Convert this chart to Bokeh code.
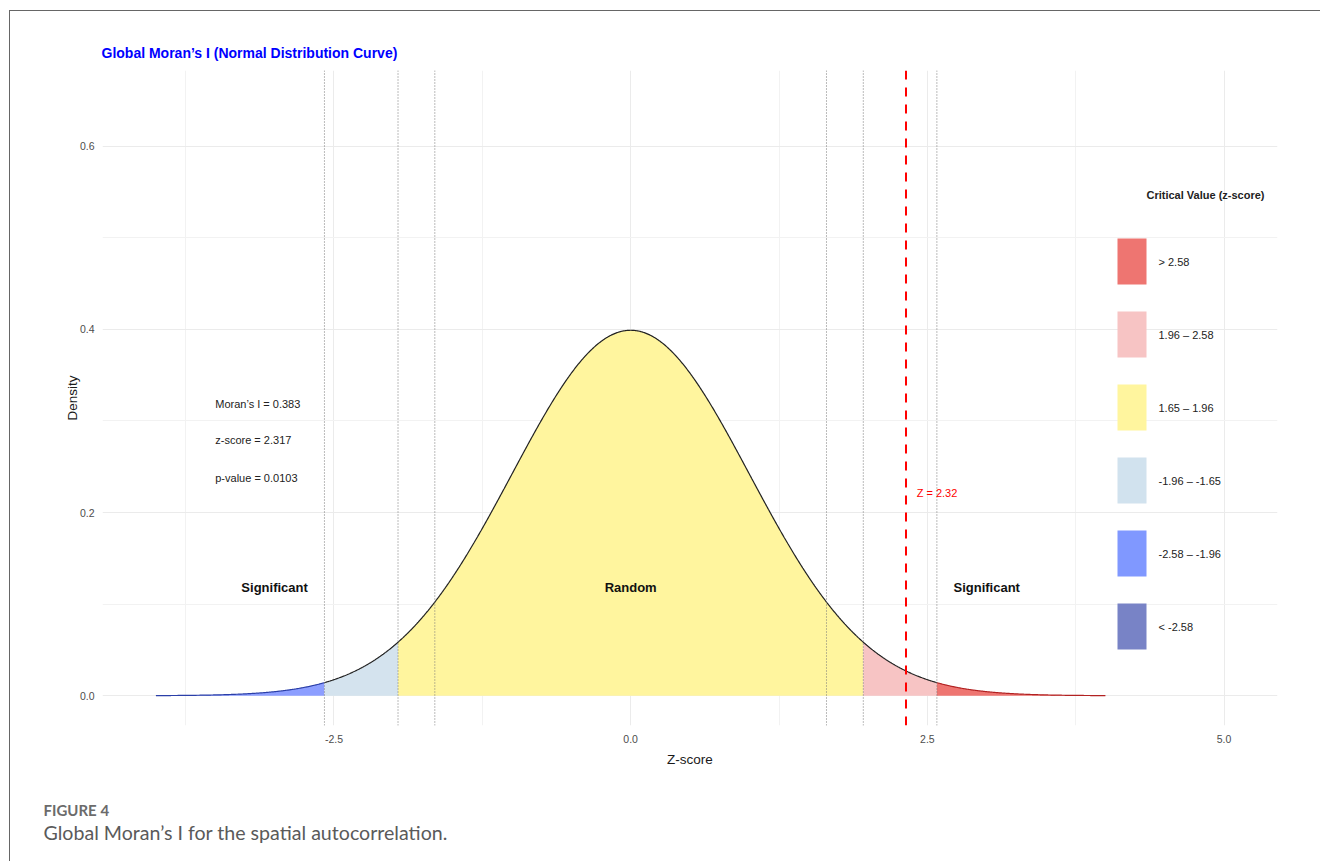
import numpy as np
from bokeh.plotting import figure
from bokeh.models import (Range1d, FixedTicker, NumeralTickFormatter, Span, Label,
                          BoxAnnotation, Title, LinearAxis)
from bokeh.embed import file_html
from bokeh.resources import INLINE

# ---------------- data ----------------
title_text = "Global Moran’s I (Normal Distribution Curve)"
curve_min, curve_max = -4.0, 4.0
region_bounds = [-4.0, -2.58, -1.96, 1.96, 2.58, 4.0]
region_fills = ["#8C9EFF", "#D4E3EE", "#FFF59E", "#F7C4C4", "#EE7571"]
outline_bounds = [-4.0, -2.58, 2.58, 4.0]
outline_colors = ["#2B3FA8", "#222222", "#B22222"]
critical_values = [-2.58, -1.96, -1.65, 1.65, 1.96, 2.58]
observed_z = 2.32
observed_label = "Z = 2.32"
stats_labels = ["Moran’s I = 0.383", "z-score = 2.317", "p-value = 0.0103"]
stats_x = -3.5
stats_y = [0.318, 0.279, 0.238]
zone_labels = ["Significant", "Random", "Significant"]
zone_x = [-3.0, 0.0, 3.0]
zone_y = 0.118
legend_title = "Critical Value (z-score)"
legend_labels = ["> 2.58", "1.96 – 2.58", "1.65 – 1.96", "-1.96 – -1.65", "-2.58 – -1.96", "< -2.58"]
legend_colors = ["#EE7571", "#F7C4C4", "#FFF59E", "#D1E2EE", "#8098FF", "#7883C6"]
x_ticks = [-2.5, 0.0, 2.5, 5.0]
x_minor = [-3.75, -1.25, 1.25, 3.75]
y_ticks = [0.0, 0.2, 0.4, 0.6]
y_minor = [0.1, 0.3, 0.5]
caption_head = "FIGURE 4"
caption_text = "Global Moran’s I for the spatial autocorrelation."

FONT = "Liberation Sans"
CAP_FONT = "Lato"

# theoretical standard normal density
z = np.linspace(curve_min, curve_max, 1601)
dens = np.exp(-z ** 2 / 2) / np.sqrt(2 * np.pi)

p = figure(frame_width=1175, frame_height=655,
           min_border_left=92, min_border_top=59, min_border_right=43, min_border_bottom=136,
           x_range=Range1d(-4.45, 5.45), y_range=Range1d(-0.0325, 0.6825),
           output_backend="svg", toolbar_location=None)
p.styles = {"margin-left": "9px", "margin-top": "10px",
            "border-left": "1px solid #666666", "border-top": "1px solid #666666"}
p.outline_line_color = None
p.background_fill_color = "white"

# title
p.title.text = title_text
p.title.align = "left"
p.title.offset = -1
p.title.standoff = 20
p.title.text_font = FONT
p.title.text_font_size = "14px"
p.title.text_font_style = "bold"
p.title.text_color = "#0000FF"

# axes
p.xaxis.ticker = FixedTicker(ticks=x_ticks, minor_ticks=x_minor)
p.yaxis.ticker = FixedTicker(ticks=y_ticks, minor_ticks=y_minor)
p.xaxis.formatter = NumeralTickFormatter(format="0.0")
p.yaxis.formatter = NumeralTickFormatter(format="0.0")
for ax in (p.xaxis[0], p.yaxis[0]):
    ax.axis_line_color = None
    ax.major_tick_line_color = None
    ax.minor_tick_line_color = None
    ax.major_tick_out = 0
    ax.minor_tick_out = 0
    ax.major_label_text_font = FONT
    ax.major_label_text_font_size = "10.5px"
    ax.major_label_text_color = "#4D4D4D"
    ax.axis_label_text_font = FONT
    ax.axis_label_text_font_size = "13.5px"
    ax.axis_label_text_font_style = "normal"
    ax.axis_label_text_color = "#1A1A1A"
p.xaxis.axis_label = "Z-score"
p.yaxis.axis_label = "Density"
p.xaxis.major_label_standoff = 9
p.yaxis.major_label_standoff = 8
p.xaxis.axis_label_standoff = 6
p.yaxis.axis_label_standoff = -3

for g in (p.xgrid[0], p.ygrid[0]):
    g.grid_line_color = "#EBEBEB"
    g.grid_line_width = 1
    g.minor_grid_line_color = "#F2F2F2"
    g.minor_grid_line_width = 1

# shaded regions
for i, col in enumerate(region_fills):
    lo, hi = region_bounds[i], region_bounds[i + 1]
    m = (z >= lo) & (z <= hi)
    p.varea(x=z[m], y1=np.zeros(m.sum()), y2=dens[m], fill_color=col, fill_alpha=1.0)

# curve outline
for i, col in enumerate(outline_colors):
    lo, hi = outline_bounds[i], outline_bounds[i + 1]
    m = (z >= lo) & (z <= hi)
    p.line(z[m], dens[m], line_color=col, line_width=1.2)

# critical value lines
for cv in critical_values:
    p.add_layout(Span(location=cv, dimension="height", line_color="#777777",
                      line_width=1, line_dash="1 2"))
p.add_layout(Span(location=observed_z, dimension="height", line_color="#FF0000",
                  line_width=2, line_dash="9 8"))
p.add_layout(Label(x=observed_z + 0.09, y=0.221, text=observed_label, text_font=FONT,
                   text_font_size="11px", text_color="#FF0000",
                   text_align="left", text_baseline="middle"))

# stats text
for t, yy in zip(stats_labels, stats_y):
    p.add_layout(Label(x=stats_x, y=yy, text=t, text_font=FONT, text_font_size="11px",
                       text_color="#222222", text_align="left", text_baseline="middle"))

# zone labels
for t, xx in zip(zone_labels, zone_x):
    p.add_layout(Label(x=xx, y=zone_y, text=t, text_font=FONT, text_font_size="13px",
                       text_font_style="bold", text_color="#111111",
                       text_align="center", text_baseline="middle"))

# legend (keys placed in screen px inside the panel)
KEY_L, KEY_W, KEY_H, KEY_STEP, KEY_TOP = 1015, 29, 46, 73, 487
for i, (lab, col) in enumerate(zip(legend_labels, legend_colors)):
    top = KEY_TOP - i * KEY_STEP
    p.add_layout(BoxAnnotation(left=KEY_L, right=KEY_L + KEY_W, top=top, bottom=top - KEY_H,
                               left_units="screen", right_units="screen",
                               top_units="screen", bottom_units="screen",
                               fill_color=col, fill_alpha=1.0, line_color=None))
    p.add_layout(Label(x=KEY_L + KEY_W + 12, y=top - KEY_H / 2, x_units="screen", y_units="screen",
                       text=lab, text_font=FONT, text_font_size="11px", text_color="#222222",
                       text_align="left", text_baseline="middle"))
p.add_layout(Label(x=KEY_L + KEY_W, y=531, x_units="screen", y_units="screen", text=legend_title,
                   text_font=FONT, text_font_size="11px", text_font_style="bold",
                   text_color="#222222", text_align="left", text_baseline="middle"))

# blank spacer between the axis and the caption (one white tick, no labels drawn)
spacer = LinearAxis(ticker=FixedTicker(ticks=[0.0], minor_ticks=[]), axis_line_color=None,
                    major_tick_line_color="white", major_tick_in=0, major_tick_out=29,
                    minor_tick_line_color=None, minor_tick_out=0,
                    major_label_text_color=None, major_label_text_font_size="10px",
                    major_label_standoff=0)
p.add_layout(spacer, "below")

# caption
p.add_layout(Title(text=caption_head, align="left", offset=-59, standoff=0,
                   text_font=CAP_FONT, text_font_size="15px", text_font_style="bold",
                   text_color="#6B6B6B"), "below")
p.add_layout(Title(text=caption_text, align="left", offset=-59, standoff=0,
                   text_font=CAP_FONT, text_font_size="19.6px", text_font_style="normal",
                   text_color="#5A5A5A"), "below")

open("out.html", "w").write(file_html(p, INLINE))
